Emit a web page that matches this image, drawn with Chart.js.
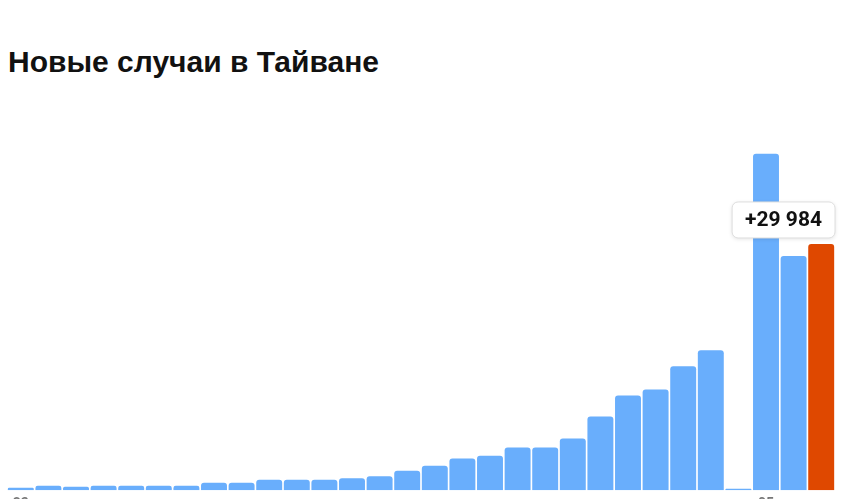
<!DOCTYPE html>
<html>
<head>
<meta charset="utf-8">
<script src="https://cdn.jsdelivr.net/npm/chart.js@4/dist/chart.umd.min.js"></script>
<style>
    html, body { margin: 0; padding: 0; background: #fff; overflow: hidden; width: 849px; height: 499px; }
    #title {
        position: absolute; left: 8px; top: 47px;
        font: bold 30px "Liberation Sans", Arial, sans-serif; line-height: 30px;
        color: #111; white-space: nowrap;
    }
    #chart { position: absolute; left: 0; top: 0; }
</style>
</head>
<body>
<div id="title">Новые случаи в Тайване</div>
<canvas id="chart" width="849" height="519"></canvas>
<script>
// Daily new cases
const dayLabels = ['23', '', '', '', '', '', '', '', '', '', '', '', '', '', '',
                   '', '', '', '', '', '', '', '', '', '', '', '', '05', '', ''];
const newCases = [305, 550, 430, 550, 550, 550, 550, 915, 915, 1280,
                  1280, 1280, 1465, 1710, 2380, 2990, 3850, 4210, 5190, 5190,
                  6290, 8970, 11540, 12270, 15080, 17030, 180, 40960, 28510, 29984];
const yMax = 48000;

const BLUE = '#69aefc';
const ORANGE = '#df4800';

const barColors = newCases.map((v, i) => i === newCases.length - 1 ? ORANGE : BLUE);

function fmt(n) {
    return '+' + String(n).replace(/\B(?=(\d{3})+(?!\d))/g, ' ');
}

// label box over the last bar
const lastLabel = {
    id: 'lastLabel',
    afterDatasetsDraw(chart) {
        const meta = chart.getDatasetMeta(0);
        const bar = meta.data[meta.data.length - 1];
        const ctx = chart.ctx;
        const text = fmt(newCases[newCases.length - 1]);
        ctx.save();
        ctx.font = 'bold 21px Roboto, "Liberation Sans", sans-serif';
        const w = ctx.measureText(text).width + 26;
        const h = 36;
        let x = bar.x - w / 2;
        if (x + w > chart.chartArea.right) x = chart.chartArea.right - w;
        const y = bar.y - 6 - h;
        ctx.shadowColor = 'rgba(0,0,0,0.12)';
        ctx.shadowBlur = 4;
        ctx.shadowOffsetY = 1;
        ctx.fillStyle = '#fff';
        ctx.beginPath();
        ctx.roundRect(x, y, w, h, 6);
        ctx.fill();
        ctx.shadowColor = 'transparent';
        ctx.strokeStyle = '#dedede';
        ctx.lineWidth = 1;
        ctx.stroke();
        ctx.fillStyle = '#111';
        ctx.textAlign = 'center';
        ctx.textBaseline = 'middle';
        ctx.fillText(text, x + w / 2, y + h / 2 + 1);
        ctx.restore();
    }
};

new Chart(document.getElementById('chart'), {
    type: 'bar',
    data: {
        labels: dayLabels,
        datasets: [{
            data: newCases,
            backgroundColor: barColors,
            borderRadius: { topLeft: 3, topRight: 3 },
            borderSkipped: 'bottom',
            barPercentage: 1,
            categoryPercentage: 0.94
        }]
    },
    options: {
        responsive: false,
        animation: false,
        layout: { padding: { left: 7, right: 14, top: 96, bottom: 8 } },
        plugins: { legend: { display: false }, tooltip: { enabled: false } },
        scales: {
            x: {
                grid: { display: false },
                border: { display: false },
                ticks: {
                    autoSkip: false,
                    maxRotation: 0,
                    padding: -2,
                    color: '#777',
                    font: { size: 14, weight: 'bold', family: 'Roboto, sans-serif' }
                }
            },
            y: { display: false, min: 0, max: yMax }
        }
    },
    plugins: [lastLabel]
});
</script>
</body>
</html>
